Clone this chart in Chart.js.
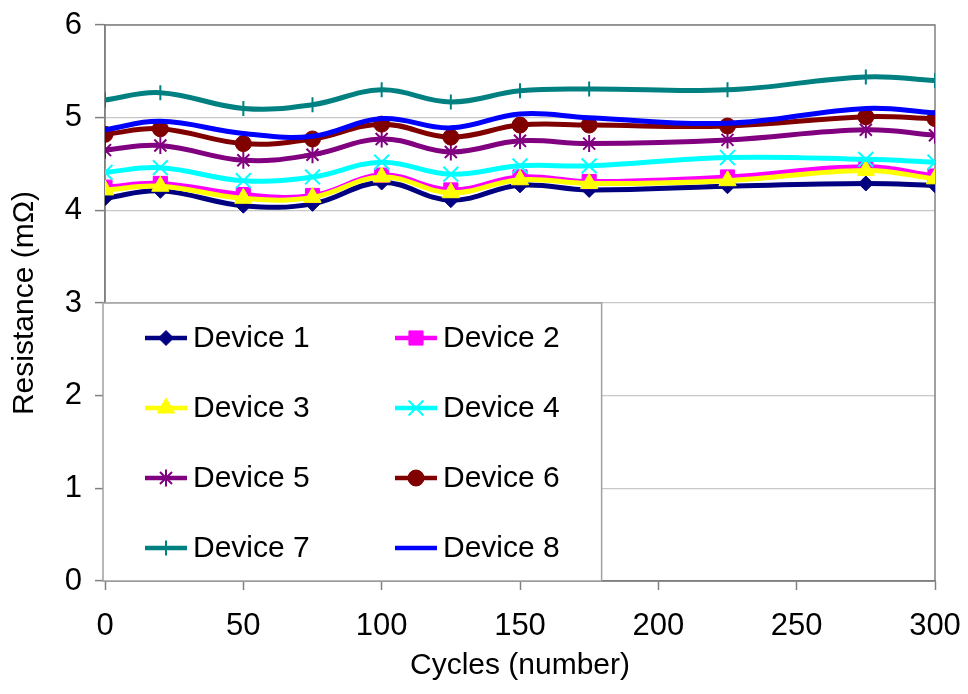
<!DOCTYPE html>
<html><head><meta charset="utf-8">
<script src="https://cdn.jsdelivr.net/npm/chart.js@4.4.1/dist/chart.umd.min.js"></script>
<style>html,body{margin:0;padding:0;background:#fff;}#wrap{width:968px;height:694px;position:relative;}</style>
</head><body><div id="wrap"><canvas id="c" width="968" height="694"></canvas></div>
<script>
const cycles = [0, 20, 50, 75, 100, 125, 150, 175, 225, 275, 300];
const device1 = [4.13, 4.21, 4.05, 4.07, 4.30, 4.11, 4.27, 4.22, 4.26, 4.29, 4.27];
const device2 = [4.25, 4.29, 4.17, 4.16, 4.38, 4.22, 4.36, 4.31, 4.36, 4.47, 4.37];
const device3 = [4.22, 4.26, 4.13, 4.14, 4.36, 4.19, 4.33, 4.29, 4.32, 4.43, 4.34];
const device4 = [4.41, 4.46, 4.32, 4.36, 4.52, 4.39, 4.48, 4.48, 4.57, 4.55, 4.52];
const device5 = [4.65, 4.70, 4.54, 4.60, 4.77, 4.63, 4.75, 4.72, 4.76, 4.87, 4.81];
const device6 = [4.82, 4.88, 4.72, 4.77, 4.93, 4.79, 4.92, 4.92, 4.91, 5.01, 4.99];
const device7 = [5.19, 5.27, 5.10, 5.14, 5.30, 5.17, 5.29, 5.31, 5.30, 5.44, 5.40];
const device8 = [4.87, 4.96, 4.83, 4.80, 4.99, 4.89, 5.04, 5.00, 4.94, 5.10, 5.05];
const seriesNames = ['Device 1','Device 2','Device 3','Device 4','Device 5','Device 6','Device 7','Device 8'];
const seriesValues = [device1, device2, device3, device4, device5, device6, device7, device8];
const xTicks = [0, 50, 100, 150, 200, 250, 300];
const yTicks = [0, 1, 2, 3, 4, 5, 6];

const colors = ['#000080','#FF00FF','#FFFF00','#00FFFF','#800080','#800000','#008080','#0000FF'];
const styles = ['rectRot','rect','triangle','crossRot','star','circle','cross', false];
const radii = [7.5, 10, 10, 10.5, 8.5, 8, 7.5, 0];
const FONT = "'Liberation Sans', Arial, sans-serif";

const datasets = seriesValues.map((vals, i) => ({
  label: seriesNames[i],
  data: vals.map((v, k) => ({x: cycles[k], y: v})),
  borderColor: colors[i],
  backgroundColor: colors[i],
  pointBackgroundColor: colors[i],
  pointBorderColor: colors[i],
  pointStyle: styles[i],
  pointRadius: radii[i],
  pointBorderWidth: (styles[i] === 'crossRot' || styles[i] === 'star' || styles[i] === 'cross') ? 2 : 1,
  borderWidth: 5,
  tension: 0.4,
  fill: false,
  order: 7 - i
}));

const framePlugin = {
  id: 'frame',
  beforeDatasetsDraw(chart) {
    const {ctx, chartArea: a} = chart;
    ctx.save();
    ctx.strokeStyle = '#808080';
    ctx.lineWidth = 1.5;
    ctx.strokeRect(a.left, a.top, a.right - a.left, a.bottom - a.top);
    ctx.restore();
  }
};

const legendPlugin = {
  id: 'insideLegend',
  afterDraw(chart) {
    const {ctx, chartArea: a} = chart;
    const xs = chart.scales.x, ys = chart.scales.y;
    const left = a.left - 2, top = ys.getPixelForValue(3);
    const right = xs.getPixelForValue(179.5), bottom = a.bottom;
    ctx.save();
    ctx.fillStyle = '#ffffff';
    ctx.fillRect(left, top, right - left, bottom - top);
    ctx.strokeStyle = '#a0a0a0';
    ctx.lineWidth = 1.5;
    ctx.strokeRect(left, top, right - left, bottom - top);
    ctx.font = '30px ' + FONT;
    ctx.textBaseline = 'middle';
    ctx.textAlign = 'left';
    seriesNames.forEach((name, i) => {
      const col = i % 2, row = Math.floor(i / 2);
      const lx = left + 42 + col * 250;
      const cy = top + 35 + row * 70;
      ctx.strokeStyle = colors[i];
      ctx.lineWidth = 4.5;
      ctx.beginPath();
      ctx.moveTo(lx, cy);
      ctx.lineTo(lx + 42, cy);
      ctx.stroke();
      if (styles[i]) {
        ctx.fillStyle = colors[i];
        ctx.strokeStyle = colors[i];
        ctx.lineWidth = datasets[i].pointBorderWidth;
        Chart.helpers.drawPoint(ctx, {
          pointStyle: styles[i], radius: radii[i], rotation: 0,
          borderWidth: datasets[i].pointBorderWidth
        }, lx + 21, cy);
      }
      ctx.fillStyle = '#000000';
      ctx.fillText(name, lx + 48, cy + 1);
    });
    ctx.restore();
  }
};

new Chart(document.getElementById('c'), {
  type: 'line',
  data: { datasets },
  plugins: [framePlugin, legendPlugin],
  options: {
    responsive: false,
    animation: false,
    devicePixelRatio: 1,
    layout: { padding: { left: 0, top: 25, right: 33, bottom: 0 } },
    plugins: { legend: { display: false }, tooltip: { enabled: false } },
    scales: {
      x: {
        type: 'linear', min: 0, max: 300,
        afterBuildTicks(s) { s.ticks = xTicks.map(v => ({value: v})); },
        afterFit(s) { s.height = 113; s.paddingLeft = 0; s.paddingRight = 0; },
        ticks: { font: { family: FONT, size: 31 }, color: '#000', padding: 18, maxRotation: 0, autoSkip: false },
        grid: { drawOnChartArea: false, drawTicks: true, tickLength: 9, tickColor: '#808080', tickWidth: 1.5 },
        border: { display: true, color: '#808080', width: 1.5 },
        title: { display: true, text: 'Cycles (number)', font: { family: FONT, size: 30 }, color: '#000', padding: { top: 0, bottom: 10 } }
      },
      y: {
        type: 'linear', min: 0, max: 6,
        afterBuildTicks(s) { s.ticks = yTicks.map(v => ({value: v})); },
        afterFit(s) { s.width = 105; s.paddingTop = 0; s.paddingBottom = 0; },
        ticks: { font: { family: FONT, size: 31 }, color: '#000', padding: 13 },
        grid: { color: '#c8c8c8', lineWidth: 1.2, drawTicks: true, tickLength: 10, tickColor: '#808080', tickWidth: 1.5 },
        border: { display: true, color: '#808080', width: 1.5 },
        title: { display: true, text: 'Resistance (mΩ)', font: { family: FONT, size: 30 }, color: '#000', padding: { top: 7, bottom: 0 } }
      }
    }
  }
});
</script></body></html>
